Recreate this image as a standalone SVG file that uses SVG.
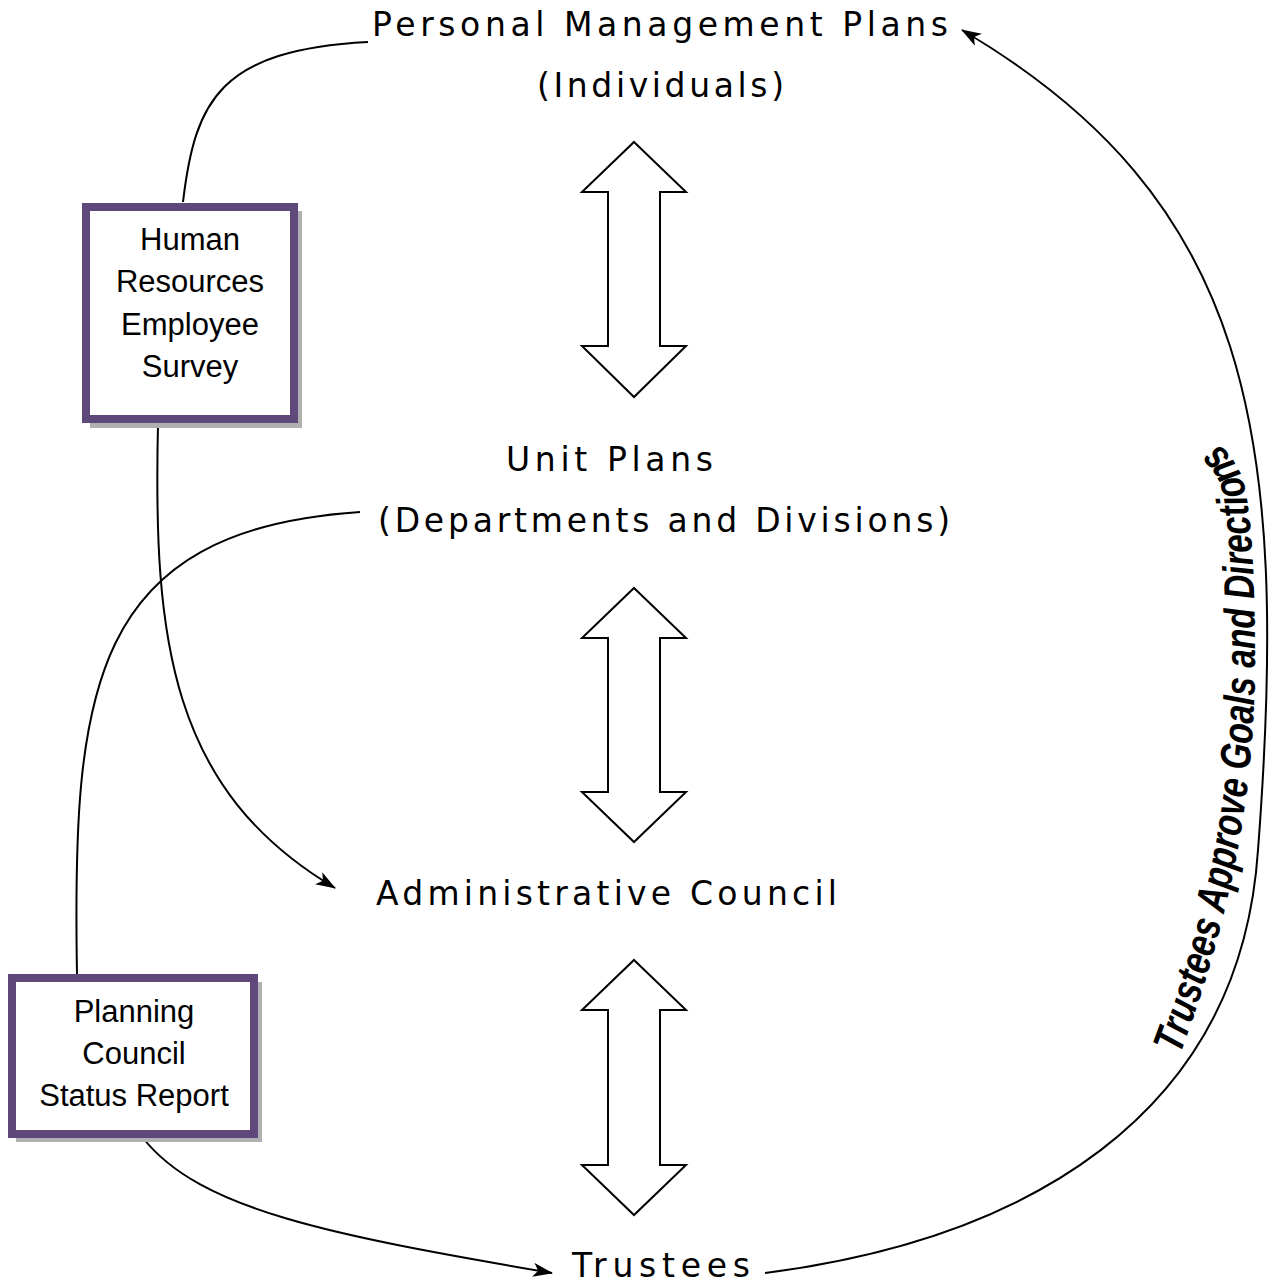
<svg xmlns="http://www.w3.org/2000/svg" width="1274" height="1286" viewBox="0 0 1274 1286">
<style>
.main{font-family:"DejaVu Sans",Verdana,sans-serif;font-size:33px;fill:#000}
.box{font-family:"Liberation Sans",Arial,sans-serif;font-size:31px;fill:#000;text-anchor:middle}
.frame{fill:#fff;stroke:#5f497a;stroke-width:8}
.shadow{fill:#b0b0b0}
.conn{fill:none;stroke:#000;stroke-width:2}
.dbl{fill:#fff;stroke:#000;stroke-width:2;stroke-linejoin:miter}
.curve{font-family:"Liberation Sans",Arial,sans-serif;font-size:43px;font-weight:bold;font-style:italic;fill:#000}
</style>
<defs>
<marker id="ah" markerUnits="userSpaceOnUse" markerWidth="20" markerHeight="14" viewBox="0 0 20 14" refX="19" refY="7" orient="auto">
<path d="M0,0 L20,7 L0,14 L5,7 z" fill="#000"/>
</marker>
<path id="tp" d="M1180,1055 C1228,925 1255,800 1255,660 C1255,570 1251,505 1242,478 Q1234,455 1212,438"/>
</defs>
<rect width="1274" height="1286" fill="#fff"/>
<g id="connectors">
<path class="conn" d="M183,202 C195,100 220,50 368,42"/>
<path class="conn" d="M158,424 C153,640 170,790 335,888" marker-end="url(#ah)"/>
<path class="conn" d="M77,974 C72,690 90,530 360,512"/>
<path class="conn" d="M143,1138 C200,1210 330,1235 552,1273" marker-end="url(#ah)"/>
<path class="conn" d="M765,1273 C1020,1240 1240,1120 1258,850 C1290,430 1250,200 962,30" marker-end="url(#ah)"/>
<polygon class="dbl" points="634,142 686,192 660,192 660,346 686,346 634,397 582,346 608,346 608,192 582,192"/>
<polygon class="dbl" points="634,588 686,638 660,638 660,792 686,792 634,842 582,792 608,792 608,638 582,638"/>
<polygon class="dbl" points="634,960 686,1010 660,1010 660,1165 686,1165 634,1215 582,1165 608,1165 608,1010 582,1010"/>
</g>
<g id="pmp">
<text class="main" x="372" y="36" textLength="576" lengthAdjust="spacing">Personal Management Plans</text>
<text class="main" x="537" y="97" textLength="247" lengthAdjust="spacing">(Individuals)</text>
</g>
<g id="unit">
<text class="main" x="506" y="471" textLength="207" lengthAdjust="spacing">Unit Plans</text>
<text class="main" x="378" y="532" textLength="572" lengthAdjust="spacing">(Departments and Divisions)</text>
</g>
<g id="admin">
<text class="main" x="376" y="905" textLength="461" lengthAdjust="spacing">Administrative Council</text>
</g>
<g id="trustees">
<text class="main" x="572" y="1277" textLength="178" lengthAdjust="spacing">Trustees</text>
</g>
<g id="hr">
<rect class="shadow" x="90" y="211" width="212" height="217"/>
<rect class="frame" x="86" y="207" width="208" height="212"/>
<text class="box" x="190" y="250">Human</text>
<text class="box" x="190" y="292">Resources</text>
<text class="box" x="190" y="335">Employee</text>
<text class="box" x="190" y="377">Survey</text>
</g>
<g id="planning">
<rect class="shadow" x="16" y="982" width="246" height="160"/>
<rect class="frame" x="12" y="978" width="242" height="156"/>
<text class="box" x="134" y="1022">Planning</text>
<text class="box" x="134" y="1064">Council</text>
<text class="box" x="134" y="1106">Status Report</text>
</g>
<g id="curved-label">
<text class="curve"><textPath href="#tp" textLength="630" lengthAdjust="spacingAndGlyphs">Trustees Approve Goals and Directions</textPath></text>
</g>
</svg>
